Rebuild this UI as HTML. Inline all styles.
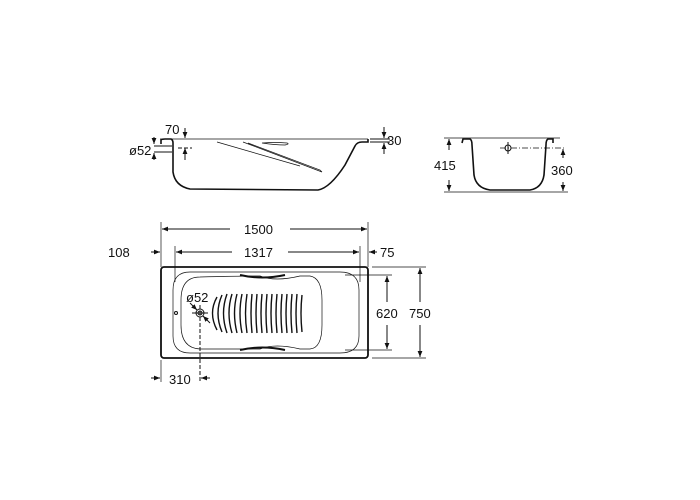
<!DOCTYPE html>
<html><head><meta charset="utf-8"><style>
html,body{margin:0;padding:0;background:#fff;width:700px;height:500px;overflow:hidden}
text{font-family:"Liberation Sans",sans-serif;font-size:13px;fill:#111}
</style></head><body>
<svg width="700" height="500" viewBox="0 0 700 500" xmlns="http://www.w3.org/2000/svg">
<defs><marker id="a" viewBox="0 0 10 10" refX="10" refY="5" markerWidth="6" markerHeight="6" orient="auto-start-reverse"><path d="M0,1 L10,5 L0,9z" fill="#111"/></marker></defs>
<g stroke="#111" fill="none" stroke-width="1">
<!-- side view -->
<line x1="160" y1="139" x2="368" y2="139" stroke-width="0.8"/>
<path d="M161,144 L161,140 Q162,139 165,139 L171,139 Q173,140 173,143 L173,172 Q175,186 190,189 L318,190 Q330,188 345,165 L355,146 Q357,142 362,142 L368,142 L368,139" stroke-width="1.6"/>
<path d="M217,142 L300,166" stroke-width="0.7"/>
<path d="M243,142 L322,172 L320,170 L248,143" stroke-width="0.7"/>
<path d="M262,143 Q275,145 285,145 Q290,144 287,143 Q275,142 262,143z" stroke-width="0.7"/>
<line x1="185" y1="128" x2="185" y2="138" marker-end="url(#a)"/>
<line x1="185" y1="160" x2="185" y2="148" marker-end="url(#a)"/>
<line x1="178" y1="148" x2="192" y2="148" stroke-dasharray="4,2"/>
<line x1="154" y1="137" x2="154" y2="144" marker-end="url(#a)"/>
<line x1="154" y1="160" x2="154" y2="153" marker-end="url(#a)"/>
<line x1="154" y1="146" x2="172" y2="146"/><line x1="154" y1="152" x2="172" y2="152"/>
<line x1="370" y1="139" x2="390" y2="139"/><line x1="370" y1="142" x2="390" y2="142"/>
<line x1="384" y1="127" x2="384" y2="138" marker-end="url(#a)"/>
<line x1="384" y1="154" x2="384" y2="143" marker-end="url(#a)"/>
<!-- end view -->
<line x1="444" y1="138" x2="560" y2="138" stroke-width="0.8"/>
<line x1="444" y1="192" x2="568" y2="192" stroke-width="0.8"/>
<path d="M462,143 L463,139 L470,139 Q472,140 472,145 L474,175 Q476,188 490,190 L530,190 Q542,188 544,175 L546,145 Q546,140 548,139 L553,139 L553,143" stroke-width="1.6"/>
<circle cx="508" cy="148" r="3"/>
<line x1="500" y1="148" x2="565" y2="148" stroke-dasharray="6,2,1,2" stroke-width="0.7"/>
<line x1="508" y1="142" x2="508" y2="154"/>
<line x1="449" y1="150" x2="449" y2="139" marker-end="url(#a)"/>
<line x1="449" y1="180" x2="449" y2="191" marker-end="url(#a)"/>
<line x1="563" y1="158" x2="563" y2="149" marker-end="url(#a)"/>
<line x1="563" y1="182" x2="563" y2="191" marker-end="url(#a)"/>
<!-- plan -->
<rect x="161" y="267" width="207" height="91" rx="3" stroke-width="1.8"/>
<path d="M190,272 L340,272 Q359,272 359,290 L359,336 Q359,353 340,353 L190,353 Q173,353 173,336 L173,290 Q173,272 190,272z" stroke-width="0.7"/>
<path d="M200,277 Q240,276 260,276 Q275,282 300,276 L310,276 Q322,278 322,300 L322,325 Q322,348 310,349 L300,349 Q275,343 260,349 L200,349 Q181,348 181,325 L181,300 Q181,277 200,277z" stroke-width="0.7"/>
<path d="M240,275 Q262,280 285,275 M240,350 Q262,345 285,350" stroke-width="2"/>
<g stroke-width="1.4">
<path d="M217,297 Q208,313 217,330"/><path d="M222,295 Q214,313 222,332"/><path d="M227,294 Q220,313 227,333"/>
<path d="M232,294 Q226,313 232,333"/><path d="M237,294 Q232,313 237,333"/><path d="M242,294 Q238,313 242,333"/>
<path d="M247,294 Q244,313 247,333"/><path d="M252,294 Q250,313 252,333"/><path d="M257,294 Q255,313 257,333"/>
<path d="M262,294 Q260,313 262,333"/><path d="M267,294 Q265,313 267,333"/><path d="M272,294 Q270,313 272,333"/>
<path d="M277,294 Q275,313 277,333"/><path d="M282,294 Q280,313 282,333"/><path d="M287,294 Q285,313 287,333"/>
<path d="M292,294 Q290,313 292,333"/><path d="M297,294 Q295,313 297,333"/><path d="M302,295 Q300,313 302,332"/>
</g>
<circle cx="200" cy="313" r="4"/><circle cx="200" cy="313" r="2"/>
<line x1="192" y1="313" x2="208" y2="313"/>
<line x1="200" y1="305" x2="200" y2="382" stroke-dasharray="4,2"/>
<line x1="190" y1="303" x2="197" y2="310" marker-end="url(#a)"/>
<line x1="210" y1="323" x2="203" y2="316" marker-end="url(#a)"/>
<circle cx="176" cy="313" r="1.5"/>
<!-- dims -->
<line x1="161" y1="222" x2="161" y2="267" stroke-width="0.7"/>
<line x1="368" y1="222" x2="368" y2="267" stroke-width="0.7"/>
<line x1="175" y1="246" x2="175" y2="282" stroke-width="0.7"/>
<line x1="360" y1="246" x2="360" y2="282" stroke-width="0.7"/>
<line x1="230" y1="229" x2="162" y2="229" marker-end="url(#a)"/>
<line x1="290" y1="229" x2="367" y2="229" marker-end="url(#a)"/>
<line x1="232" y1="252" x2="176" y2="252" marker-end="url(#a)"/>
<line x1="288" y1="252" x2="359" y2="252" marker-end="url(#a)"/>
<line x1="151" y1="252" x2="160" y2="252" marker-end="url(#a)"/>
<line x1="377" y1="252" x2="369" y2="252" marker-end="url(#a)"/>
<line x1="345" y1="275" x2="392" y2="275" stroke-width="0.7"/>
<line x1="345" y1="350" x2="392" y2="350" stroke-width="0.7"/>
<line x1="372" y1="267" x2="426" y2="267" stroke-width="0.7"/>
<line x1="372" y1="358" x2="426" y2="358" stroke-width="0.7"/>
<line x1="387" y1="302" x2="387" y2="276" marker-end="url(#a)"/>
<line x1="387" y1="325" x2="387" y2="349" marker-end="url(#a)"/>
<line x1="420" y1="302" x2="420" y2="268" marker-end="url(#a)"/>
<line x1="420" y1="325" x2="420" y2="357" marker-end="url(#a)"/>
<line x1="161" y1="360" x2="161" y2="382" stroke-width="0.7"/>
<line x1="151" y1="378" x2="160" y2="378" marker-end="url(#a)"/>
<line x1="210" y1="378" x2="201" y2="378" marker-end="url(#a)"/>
</g>
<text x="165" y="134">70</text>
<text x="129" y="155">ø52</text>
<text x="387" y="145">30</text>
<text x="434" y="170">415</text>
<text x="551" y="175">360</text>
<text x="244" y="234">1500</text>
<text x="244" y="257">1317</text>
<text x="108" y="257">108</text>
<text x="380" y="257">75</text>
<text x="186" y="302">ø52</text>
<text x="376" y="318">620</text>
<text x="409" y="318">750</text>
<text x="169" y="384">310</text>
</svg>
</body></html>
